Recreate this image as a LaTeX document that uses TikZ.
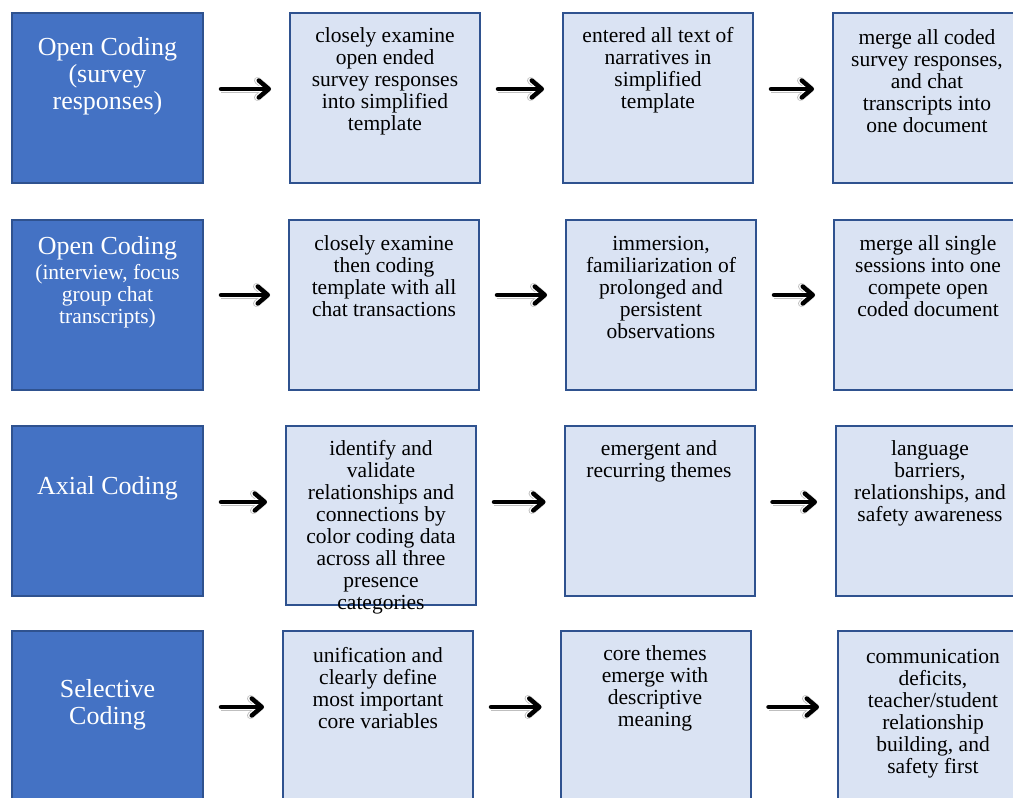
\documentclass[tikz,border=0pt]{standalone}
\usepackage{fontspec}
\setmainfont{Liberation Serif}
\usetikzlibrary{arrows.meta}

\definecolor{codeblue}{HTML}{4472C4}
\definecolor{edgeblue}{HTML}{2F528F}
\definecolor{paleblue}{HTML}{DAE3F3}

\begin{document}
\begin{tikzpicture}[x=1pt, y=-1pt,
	phase/.style={draw=edgeblue, line width=2pt, fill=codeblue, minimum width=191pt, minimum height=170pt, inner sep=0pt},
	stepbox/.style={draw=edgeblue, line width=2pt, fill=paleblue, minimum width=190pt, minimum height=170pt, inner sep=0pt},
	phasetext/.style={text=white, text width=190pt, align=flush center, inner sep=0pt, font=\fontsize{26}{27}\selectfont},
	steptext/.style={text width=188pt, align=flush center, inner sep=0pt, font=\fontsize{21.5}{22}\selectfont},
	flow/.style={-{Straight Barb[length=10pt, width=17pt, round]}, line width=4.5pt, line cap=round, shorten <=17pt, shorten >=18pt,
		preaction={draw, gray!50, line width=7pt}, preaction={draw, white, line width=6pt}}]
			\useasboundingbox (0, 0) rectangle (1013, 798);
			%%
			\node[phase] (l1) at (107.5, 98) {};
			\node[stepbox] (b12) at (385, 97.5) {};
			\node[stepbox] (b13) at (658, 97.5) {};
			\node[stepbox] (b14) at (928, 98) {};
			%%
			\node[phase] (l2) at (107.5, 304.5) {};
			\node[stepbox] (b22) at (384, 304.5) {};
			\node[stepbox] (b23) at (661, 304.5) {};
			\node[stepbox] (b24) at (929, 304.5) {};
			%%
			\node[phase] (l3) at (107.5, 511) {};
			\node[stepbox, minimum height=179pt] (b32) at (381, 515) {};
			\node[stepbox] (b33) at (659.5, 511) {};
			\node[stepbox] (b34) at (931, 511) {};
			%%
			\node[phase] (l4) at (107.5, 716) {};
			\node[stepbox] (b42) at (378, 716) {};
			\node[stepbox] (b43) at (655.5, 716) {};
			\node[stepbox] (b44) at (933, 716) {};
			%%
			\node[phasetext] (p1) at (107.5, 76.5) {Open Coding\\(survey\\responses)};
			\node[phasetext, font=\fontsize{21.5}{22}\selectfont] (p2) at (107.5, 282) {{\fontsize{26}{27}\selectfont Open Coding}\\[3pt](interview, focus\\group chat\\transcripts)};
			\node[phasetext] (p3) at (107.5, 488) {Axial Coding};
			\node[phasetext] (p4) at (107.5, 705) {Selective\\Coding};
			%%
			\node[steptext] (t12) at (385, 81) {closely examine\\open ended\\survey responses\\into simplified\\template};
			\node[steptext] (t13) at (658, 70) {entered all text of\\narratives in\\simplified\\template};
			\node[steptext] (t14) at (927, 81) {merge all coded\\survey responses,\\and chat\\transcripts into\\one document};
			\node[steptext] (t22) at (384, 276.5) {closely examine\\then coding\\template with all\\chat transactions};
			\node[steptext] (t23) at (661, 287.5) {immersion,\\familiarization of\\prolonged and\\persistent\\observations};
			\node[steptext] (t24) at (928, 276.5) {merge all single\\sessions into one\\compete open\\coded document};
			\node[steptext] (t32) at (381, 527.5) {identify and\\validate\\relationships and\\connections by\\color coding data\\across all three\\presence\\categories};
			\node[steptext] (t33) at (659, 461) {emergent and\\recurring themes};
			\node[steptext] (t34) at (930, 483) {language\\barriers,\\relationships, and\\safety awareness};
			\node[steptext] (t42) at (378, 688) {unification and\\clearly define\\most important\\core variables};
			\node[steptext] (t43) at (655, 688) {core themes\\emerge with\\descriptive\\meaning};
			\node[steptext] (t44) at (933, 713.5) {communication\\deficits,\\teacher/student\\relationship\\building, and\\safety first};
			%%
			\coordinate (r1) at (0, 89);
			\coordinate (r2) at (0, 295);
			\coordinate (r3) at (0, 502);
			\coordinate (r4) at (0, 707);
			%%
			\draw[flow] (l1.east |- r1) -- (b12.west |- r1);
			\draw[flow] (b12.east |- r1) -- (b13.west |- r1);
			\draw[flow] (b13.east |- r1) -- (b14.west |- r1);
			\draw[flow] (l2.east |- r2) -- (b22.west |- r2);
			\draw[flow] (b22.east |- r2) -- (b23.west |- r2);
			\draw[flow] (b23.east |- r2) -- (b24.west |- r2);
			\draw[flow] (l3.east |- r3) -- (b32.west |- r3);
			\draw[flow] (b32.east |- r3) -- (b33.west |- r3);
			\draw[flow] (b33.east |- r3) -- (b34.west |- r3);
			\draw[flow] (l4.east |- r4) -- (b42.west |- r4);
			\draw[flow] (b42.east |- r4) -- (b43.west |- r4);
			\draw[flow] (b43.east |- r4) -- (b44.west |- r4);
		\end{tikzpicture}
\end{document}
